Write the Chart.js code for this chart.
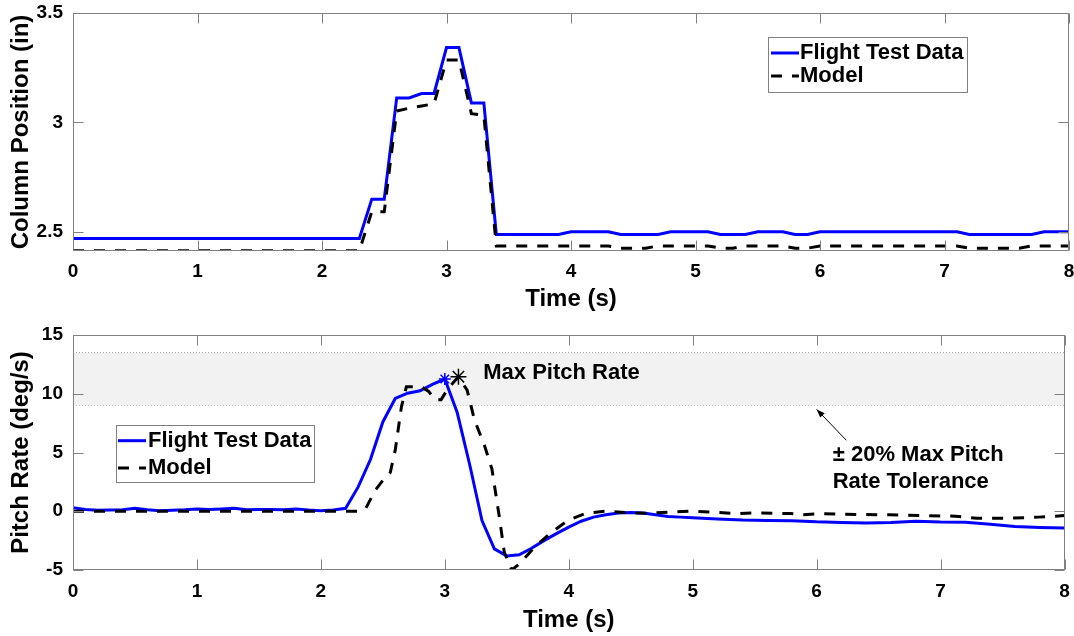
<!DOCTYPE html>
<html>
<head>
<meta charset="utf-8">
<script src="https://cdn.jsdelivr.net/npm/chart.js@4.4.0/dist/chart.umd.min.js"></script>
<style>
  html, body { margin: 0; padding: 0; background: #fff; }
  #wrap { position: relative; width: 1074px; height: 636px; }
  #wrap canvas { position: absolute; left: 0; }
</style>
</head>
<body>
<div id="wrap">
  <canvas id="colChart" width="1074" height="318" style="top:0"></canvas>
  <canvas id="rateChart" width="1074" height="318" style="top:318px"></canvas>
</div>
<script>
// Ust panel: kolon pozisyonu (in) - kirilma noktalari
const colFlightTime = [0, 2.3, 2.4, 2.5, 2.6, 2.7, 2.8, 2.9, 3.0, 3.1, 3.2, 3.3, 3.4, 3.9, 4.0, 4.3, 4.4, 4.7, 4.8, 5.1, 5.2, 5.4, 5.5, 5.7, 5.8, 5.9, 6.0, 7.1, 7.2, 7.7, 7.8, 8.0];
const colFlight = [2.469, 2.469, 2.649, 2.649, 3.112, 3.112, 3.132, 3.132, 3.342, 3.342, 3.089, 3.089, 2.488, 2.488, 2.5, 2.5, 2.488, 2.488, 2.5, 2.5, 2.488, 2.488, 2.5, 2.5, 2.488, 2.488, 2.5, 2.5, 2.488, 2.488, 2.5, 2.5];
const colModelTime = [0, 2.3, 2.4, 2.5, 2.6, 2.7, 2.8, 2.9, 3.0, 3.1, 3.2, 3.3, 3.4, 4.3, 4.4, 4.6, 4.7, 5.1, 5.2, 5.3, 5.4, 5.7, 5.8, 5.9, 6.0, 7.1, 7.2, 7.6, 7.7, 8.0];
const colModel = [2.413, 2.413, 2.592, 2.592, 3.052, 3.065, 3.075, 3.085, 3.285, 3.285, 3.04, 3.032, 2.435, 2.435, 2.425, 2.425, 2.435, 2.435, 2.425, 2.425, 2.435, 2.435, 2.425, 2.425, 2.435, 2.435, 2.425, 2.425, 2.435, 2.435];
const colTicks = [2.5, 3, 3.5];
const colRange = [2.412, 3.5];

// Alt panel: yunuslama hizi (deg/s)
const rateFlightTime = [0, 0.1, 0.2, 0.3, 0.4, 0.5, 0.6, 0.7, 0.8, 0.9, 1.0, 1.1, 1.2, 1.3, 1.4, 1.5, 1.6, 1.7, 1.8, 1.9, 2.0, 2.1, 2.2,
  2.3, 2.4, 2.5, 2.6, 2.7, 2.8, 2.9, 3.0, 3.1, 3.2, 3.3, 3.4, 3.5, 3.6, 3.7, 3.8, 3.9, 4.0, 4.1, 4.2, 4.3, 4.4, 4.5, 4.6, 4.7, 4.8, 4.9, 5.0,
  5.2, 5.4, 5.6, 5.8, 6.0, 6.2, 6.4, 6.6, 6.8, 7.0, 7.2, 7.4, 7.6, 7.8, 8.0];
const rateFlight = [0.3, 0.15, 0.08, 0.1, 0.12, 0.25, 0.12, 0.05, 0.08, 0.12, 0.2, 0.15, 0.2, 0.25, 0.12, 0.15, 0.15, 0.12, 0.2, 0.1, 0.05, 0.1, 0.25,
  2.05, 4.4, 7.6, 9.6, 10.05, 10.25, 10.8, 11.25, 8.4, 4.0, -0.8, -3.2, -3.8, -3.7, -3.15, -2.5, -1.9, -1.35, -0.85, -0.5, -0.3, -0.15, -0.1, -0.15, -0.3, -0.45, -0.5, -0.55,
  -0.65, -0.75, -0.78, -0.8, -0.9, -0.95, -1.0, -0.95, -0.85, -0.92, -0.94, -1.1, -1.3, -1.38, -1.42];
const rateModelTime = [0, 2.3, 2.36, 2.44, 2.52, 2.56, 2.6, 2.65, 2.69, 2.81, 2.87, 2.92, 2.97, 3.03, 3.11, 3.18, 3.24, 3.32, 3.38, 3.44,
  3.48, 3.54, 3.6, 3.72, 3.86, 3.99, 4.13, 4.29, 4.45, 4.61, 4.8, 4.98, 5.17, 5.36, 5.52, 5.79, 5.89, 6.05, 6.32, 6.59, 6.86, 7.12, 7.29, 7.53, 7.79, 8.0];
const rateModel = [0, 0, 0.2, 1.8, 2.9, 3.3, 5.2, 8.9, 10.6, 10.6, 10.2, 9.5, 9.5, 10.5, 11.45, 10.3, 7.75, 5.6, 3.6, -0.5,
  -3.5, -5.0, -4.5, -3.1, -1.8, -0.8, -0.2, 0, -0.1, -0.17, -0.08, 0, -0.08, -0.2, -0.14, -0.2, -0.3, -0.2, -0.28, -0.3, -0.37, -0.42, -0.6, -0.6, -0.5, -0.37];
const rateTicks = [-5, 0, 5, 10, 15];
const rateRange = [-5, 15];

// Tolerans bandi (+/- %20 maks. yunuslama hizi) ve tepe noktalari
const toleranceTime = [0, 8];
const toleranceHigh = [13.5, 13.5];
const toleranceLow = [9, 9];
const flightPeak = [3.0, 11.25];
const modelPeak = [3.11, 11.45];

const timeTicks = [0, 1, 2, 3, 4, 5, 6, 7, 8];

const FONT = '"Liberation Sans", Arial, Helvetica, sans-serif';
const AXIS_GREY = '#808080';
const BLUE = '#0000ff';

// x/y dizilerini Chart.js noktalarına çevir
const pairs = (xs, ys) => xs.map((x, i) => ({ x: x, y: ys[i] }));

// Cerceve ve ice dogru tik cizgileri (MATLAB gorunumu)
const frameTicks = {
  id: 'frameTicks',
  afterDatasetsDraw(chart) {
    const { ctx, chartArea: a, scales } = chart;
    const L = Math.round(a.left) + 0.5, R = Math.round(a.right) - 0.5;
    const T = Math.round(a.top) + 0.5, B = Math.round(a.bottom) - 0.5;
    ctx.save();
    ctx.strokeStyle = AXIS_GREY;
    ctx.lineWidth = 1;
    ctx.strokeRect(L, T, R - L, B - T);
    ctx.beginPath();
    scales.x.ticks.forEach(t => {
      const px = Math.round(scales.x.getPixelForValue(t.value)) + 0.5;
      ctx.moveTo(px, B); ctx.lineTo(px, B - 10);
      ctx.moveTo(px, T); ctx.lineTo(px, T + 10);
    });
    scales.y.ticks.forEach(t => {
      const py = Math.round(scales.y.getPixelForValue(t.value)) + 0.5;
      ctx.moveTo(L, py); ctx.lineTo(L + 10, py);
      ctx.moveTo(R, py); ctx.lineTo(R - 10, py);
    });
    ctx.stroke();
    ctx.restore();
  }
};

// Kutulu lejant
const boxLegend = {
  id: 'boxLegend',
  afterDraw(chart, args, opts) {
    if (!opts || !opts.box) return;
    const { ctx } = chart;
    const [x0, y0, x1, y1] = opts.box;
    ctx.save();
    ctx.fillStyle = '#fff';
    ctx.fillRect(x0, y0, x1 - x0, y1 - y0);
    ctx.strokeStyle = AXIS_GREY;
    ctx.lineWidth = 1;
    ctx.strokeRect(x0 + 0.5, y0 + 0.5, x1 - x0 - 1, y1 - y0 - 1);
    ctx.font = 'bold 22px ' + FONT;
    ctx.textBaseline = 'middle';
    opts.items.forEach((idx, i) => {
      const ds = chart.data.datasets[idx];
      const y = opts.rows[i];
      ctx.strokeStyle = ds.borderColor;
      ctx.lineWidth = ds.borderWidth;
      ctx.setLineDash(ds.borderDash || []);
      ctx.beginPath();
      ctx.moveTo(opts.lineX[0], y);
      ctx.lineTo(opts.lineX[1], y);
      ctx.stroke();
      ctx.setLineDash([]);
      ctx.fillStyle = '#000';
      ctx.fillText(ds.label, opts.textX, y);
    });
    ctx.restore();
  }
};

// Metin notlari ve ok (veri koordinatlarinda)
const notes = {
  id: 'notes',
  afterDatasetsDraw(chart, args, opts) {
    if (!opts || !opts.texts) return;
    const { ctx, scales } = chart;
    ctx.save();
    ctx.font = 'bold 22px ' + FONT;
    ctx.fillStyle = '#000';
    ctx.textBaseline = 'middle';
    ctx.textAlign = 'left';
    opts.texts.forEach(n => {
      ctx.fillText(n.text, scales.x.getPixelForValue(n.x), scales.y.getPixelForValue(n.y));
    });
    if (opts.arrow) {
      const [tx, ty, hx, hy] = opts.arrow;
      const x0 = scales.x.getPixelForValue(tx), y0 = scales.y.getPixelForValue(ty);
      const x1 = scales.x.getPixelForValue(hx), y1 = scales.y.getPixelForValue(hy);
      const ang = Math.atan2(y1 - y0, x1 - x0);
      ctx.strokeStyle = '#000';
      ctx.lineWidth = 1;
      ctx.beginPath();
      ctx.moveTo(x0, y0);
      ctx.lineTo(x1, y1);
      ctx.stroke();
      ctx.beginPath();
      ctx.moveTo(x1, y1);
      ctx.lineTo(x1 - 9 * Math.cos(ang - 0.35), y1 - 9 * Math.sin(ang - 0.35));
      ctx.lineTo(x1 - 9 * Math.cos(ang + 0.35), y1 - 9 * Math.sin(ang + 0.35));
      ctx.closePath();
      ctx.fillStyle = '#000';
      ctx.fill();
    }
    ctx.restore();
  }
};

function xAxis(height, titlePad, tickPad) {
  return {
    type: 'linear', min: 0, max: 8,
    grid: { display: false, drawTicks: false },
    border: { display: false },
    afterBuildTicks: s => { s.ticks = timeTicks.map(v => ({ value: v })); },
    afterFit: s => { s.height = height; s.paddingLeft = 0; s.paddingRight = 0; },
    ticks: { color: '#000', padding: tickPad, maxRotation: 0, font: { family: FONT, size: 19, weight: 'bold' }, callback: v => String(v) },
    title: { display: true, text: 'Time (s)', color: '#000', padding: { top: 0, bottom: titlePad }, font: { family: FONT, size: 24, weight: 'bold' } }
  };
}

function yAxis(range, tickValues, label) {
  return {
    type: 'linear', min: range[0], max: range[1],
    grid: { display: false, drawTicks: false },
    border: { display: false },
    afterBuildTicks: s => { s.ticks = tickValues.map(v => ({ value: v })); },
    afterFit: s => { s.width = 73; s.paddingTop = 0; s.paddingBottom = 0; },
    ticks: { color: '#000', padding: 10, font: { family: FONT, size: 19, weight: 'bold' }, callback: v => String(v) },
    title: { display: true, text: label, color: '#000', padding: { top: 7, bottom: 0 }, font: { family: FONT, size: 24, weight: 'bold' } }
  };
}

const common = {
  responsive: false,
  animation: false,
  events: [],
  elements: { line: { tension: 0 } }
};

new Chart(document.getElementById('colChart'), {
  type: 'line',
  data: {
    datasets: [
      { label: 'Flight Test Data', data: pairs(colFlightTime, colFlight), borderColor: BLUE, borderWidth: 3, pointRadius: 0, fill: false, order: 2 },
      { label: 'Model', data: pairs(colModelTime, colModel), borderColor: '#000', borderWidth: 3, borderDash: [11, 10], pointRadius: 0, fill: false, order: 1 }
    ]
  },
  options: Object.assign({}, common, {
    layout: { padding: { top: 13, right: 5, left: 0, bottom: 0 } },
    plugins: {
      legend: { display: false },
      tooltip: { enabled: false },
      boxLegend: { box: [768, 37, 968, 93], rows: [53, 76], items: [0, 1], lineX: [771, 799], textX: 800 }
    },
    scales: { x: xAxis(67, 4, 9), y: yAxis(colRange, colTicks, 'Column Position (in)') }
  }),
  plugins: [frameTicks, boxLegend]
});

new Chart(document.getElementById('rateChart'), {
  type: 'line',
  data: {
    datasets: [
      { label: 'Flight Test Data', data: pairs(rateFlightTime, rateFlight), borderColor: BLUE, borderWidth: 3, pointRadius: 0, fill: false, order: 2 },
      { label: 'Model', data: pairs(rateModelTime, rateModel), borderColor: '#000', borderWidth: 3, borderDash: [11, 10], pointRadius: 0, fill: false, order: 1 },
      { label: 'Tolerance high', data: pairs(toleranceTime, toleranceHigh), borderColor: '#9a9a9a', borderWidth: 1, borderDash: [1, 2], backgroundColor: '#f2f2f2', pointRadius: 0, fill: '+1', order: 5 },
      { label: 'Tolerance low', data: pairs(toleranceTime, toleranceLow), borderColor: '#9a9a9a', borderWidth: 1, borderDash: [1, 2], pointRadius: 0, fill: false, order: 5 },
      { label: 'Flight peak', data: [{ x: flightPeak[0], y: flightPeak[1] }], showLine: false, pointStyle: 'star', pointRadius: 6, borderColor: BLUE, borderWidth: 1.5, order: 0 },
      { label: 'Model peak', data: [{ x: modelPeak[0], y: modelPeak[1] }], showLine: false, pointStyle: 'star', pointRadius: 8, borderColor: '#000', borderWidth: 1.5, order: 0 }
    ]
  },
  options: Object.assign({}, common, {
    layout: { padding: { top: 17, right: 5, left: 0, bottom: 0 } },
    plugins: {
      legend: { display: false },
      tooltip: { enabled: false },
      boxLegend: { box: [116, 107, 315, 165], rows: [122.7, 150], items: [0, 1], lineX: [118, 146], textX: 148 },
      notes: {
        texts: [
          { text: 'Max Pitch Rate', x: 3.31, y: 11.8 },
          { text: '\u00b1 20% Max Pitch', x: 6.13, y: 4.76 },
          { text: 'Rate Tolerance', x: 6.13, y: 2.48 }
        ],
        arrow: [6.24, 6.04, 6.0, 8.67]
      }
    },
    scales: { x: xAxis(66, 1, 10), y: yAxis(rateRange, rateTicks, 'Pitch Rate (deg/s)') }
  }),
  plugins: [frameTicks, boxLegend, notes]
});
</script>
</body>
</html>
